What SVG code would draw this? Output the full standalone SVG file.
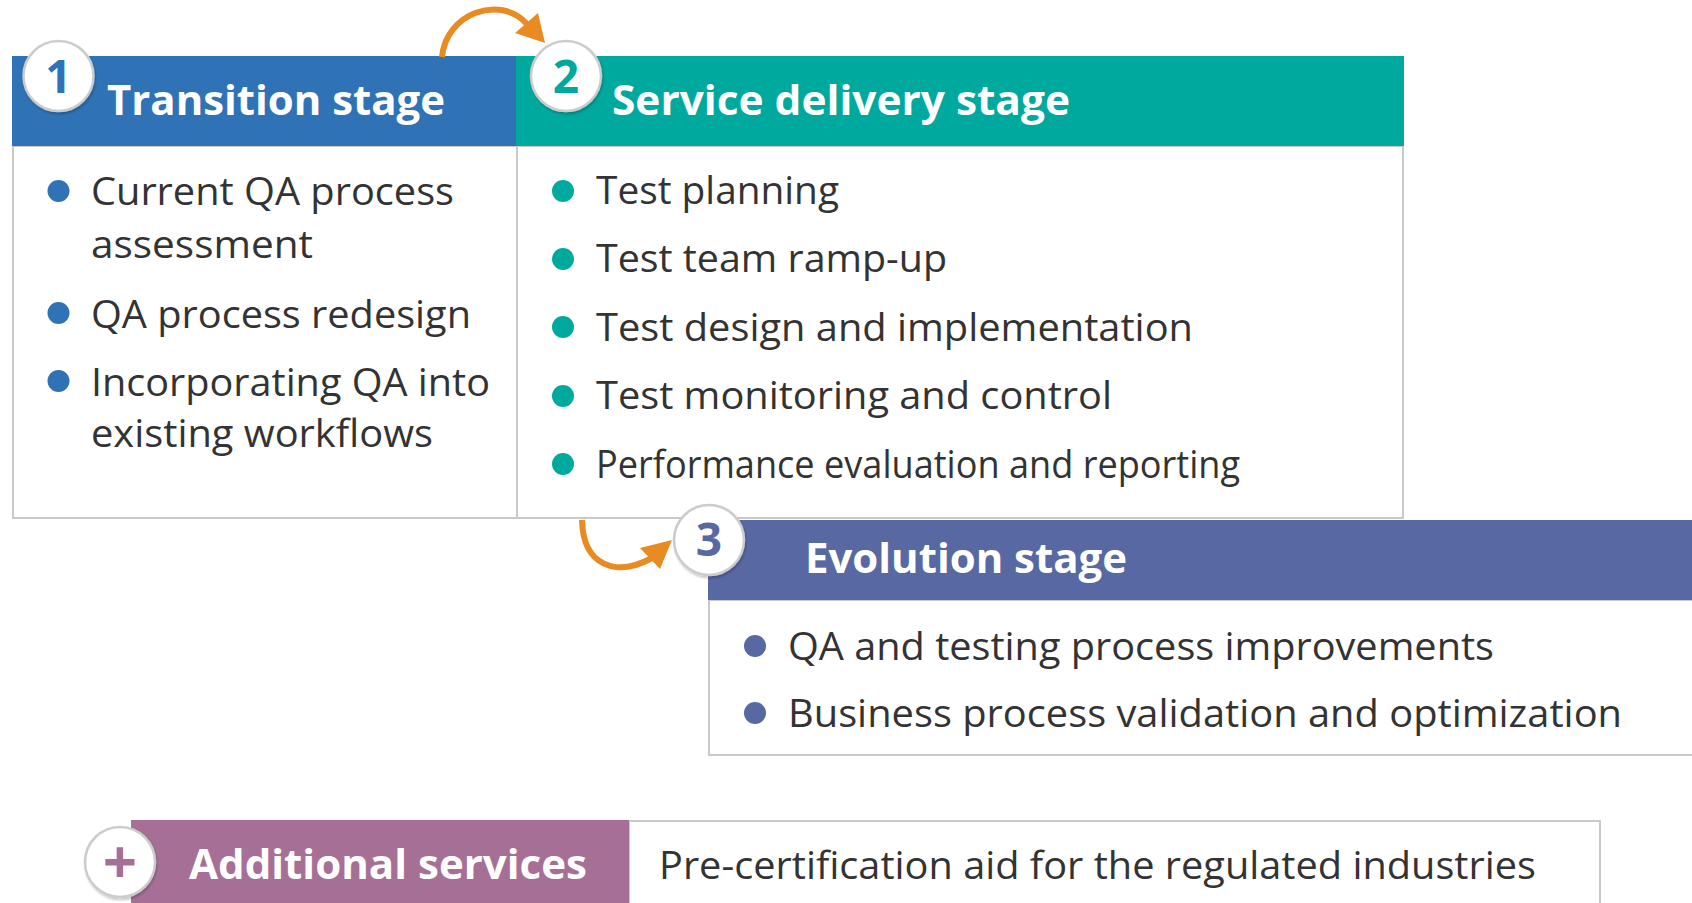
<svg xmlns="http://www.w3.org/2000/svg" width="1692" height="903" viewBox="0 0 1692 903">
<defs>
<style>
.head{font-family:"Open Sans","Noto Sans","Liberation Sans",sans-serif;font-weight:700;font-size:42px;fill:#ffffff}
.body{font-family:"Open Sans","Noto Sans","Liberation Sans",sans-serif;font-size:38px;fill:#333333}
.num{font-family:"Open Sans","Noto Sans","Liberation Sans",sans-serif;font-weight:700;font-size:46px;text-anchor:middle}
.panel{fill:#ffffff;stroke:#c9c9c9;stroke-width:2}
.badge{fill:#ffffff;stroke:#cccccc;stroke-width:2.5;filter:url(#sh)}
.arc{fill:none;stroke:#e98b23;stroke-width:6}
.tip{fill:#e98b23}
</style>
<filter id="sh" x="-30%" y="-30%" width="160%" height="160%">
<feDropShadow dx="1" dy="2" stdDeviation="1.2" flood-color="#000000" flood-opacity="0.22"/>
</filter>
</defs>
<rect width="1692" height="903" fill="#ffffff"/>

<g id="node-transition">
<rect class="panel" x="13" y="146" width="504" height="372"/>
<rect x="12" y="56" width="505" height="90" fill="#2f73b6"/>
<text class="head" x="107" y="115" textLength="338" lengthAdjust="spacingAndGlyphs">Transition stage</text>
<g fill="#2f73b6">
<circle cx="58.5" cy="191" r="11"/>
<circle cx="58.5" cy="313" r="11"/>
<circle cx="58.5" cy="381" r="11"/>
</g>
<text class="body" x="91" y="205" textLength="363" lengthAdjust="spacingAndGlyphs">Current QA process</text>
<text class="body" x="91" y="258" textLength="222" lengthAdjust="spacingAndGlyphs">assessment</text>
<text class="body" x="91" y="328" textLength="380" lengthAdjust="spacingAndGlyphs">QA process redesign</text>
<text class="body" x="91" y="396" textLength="399" lengthAdjust="spacingAndGlyphs">Incorporating QA into</text>
<text class="body" x="91" y="447" textLength="342" lengthAdjust="spacingAndGlyphs">existing workflows</text>
</g>

<g id="node-service">
<rect class="panel" x="517" y="146" width="886" height="372"/>
<rect x="516" y="56" width="888" height="90" fill="#00a99d"/>
<text class="head" x="612" y="115" textLength="458" lengthAdjust="spacingAndGlyphs">Service delivery stage</text>
<g fill="#00a99d">
<circle cx="563" cy="191" r="11"/>
<circle cx="563" cy="259" r="11"/>
<circle cx="563" cy="327" r="11"/>
<circle cx="563" cy="396" r="11"/>
<circle cx="563" cy="464" r="11"/>
</g>
<text class="body" x="596" y="204" textLength="243" lengthAdjust="spacingAndGlyphs">Test planning</text>
<text class="body" x="596" y="272" textLength="351" lengthAdjust="spacingAndGlyphs">Test team ramp-up</text>
<text class="body" x="596" y="341" textLength="597" lengthAdjust="spacingAndGlyphs">Test design and implementation</text>
<text class="body" x="596" y="409" textLength="516" lengthAdjust="spacingAndGlyphs">Test monitoring and control</text>
<text class="body" x="596" y="478" textLength="644" lengthAdjust="spacingAndGlyphs">Performance evaluation and reporting</text>
</g>

<g id="node-evolution">
<rect class="panel" x="709" y="600" width="1000" height="155"/>
<rect x="708" y="520" width="1000" height="80" fill="#5868a2"/>
<text class="head" x="805" y="573" textLength="322" lengthAdjust="spacingAndGlyphs">Evolution stage</text>
<g fill="#5868a2">
<circle cx="755" cy="646" r="11"/>
<circle cx="755" cy="713" r="11"/>
</g>
<text class="body" x="788" y="660" textLength="706" lengthAdjust="spacingAndGlyphs">QA and testing process improvements</text>
<text class="body" x="788" y="727" textLength="834" lengthAdjust="spacingAndGlyphs">Business process validation and optimization</text>
</g>

<g id="node-additional">
<rect class="panel" x="629" y="821" width="971" height="100"/>
<rect x="131" y="820" width="498" height="100" fill="#a67096"/>
<text class="head" x="189" y="879" textLength="398" lengthAdjust="spacingAndGlyphs">Additional services</text>
<text class="body" x="659" y="879" textLength="877" lengthAdjust="spacingAndGlyphs">Pre-certification aid for the regulated industries</text>
</g>

<g id="connectors">
<path class="arc" d="M442,57 C446,13 500,-6 527,24"/>
<polygon class="tip" points="538,13 515,33 545,43"/>
<path class="arc" d="M582,520 C583,565 615,578 652,558"/>
<polygon class="tip" points="640,548 660,569 672,540"/>
</g>

<g id="badges">
<circle class="badge" cx="58.5" cy="76" r="35"/>
<text class="num" x="58.5" y="93" fill="#2f73b6">1</text>
<circle class="badge" cx="566" cy="76" r="35"/>
<text class="num" x="566" y="93" fill="#00a99d">2</text>
<circle class="badge" cx="709" cy="540" r="35"/>
<text class="num" x="709" y="556" fill="#5868a2">3</text>
<circle class="badge" cx="120" cy="862" r="35"/>
<text class="num" x="120" y="884" fill="#a67096" style="font-size:60px">+</text>
</g>
</svg>
